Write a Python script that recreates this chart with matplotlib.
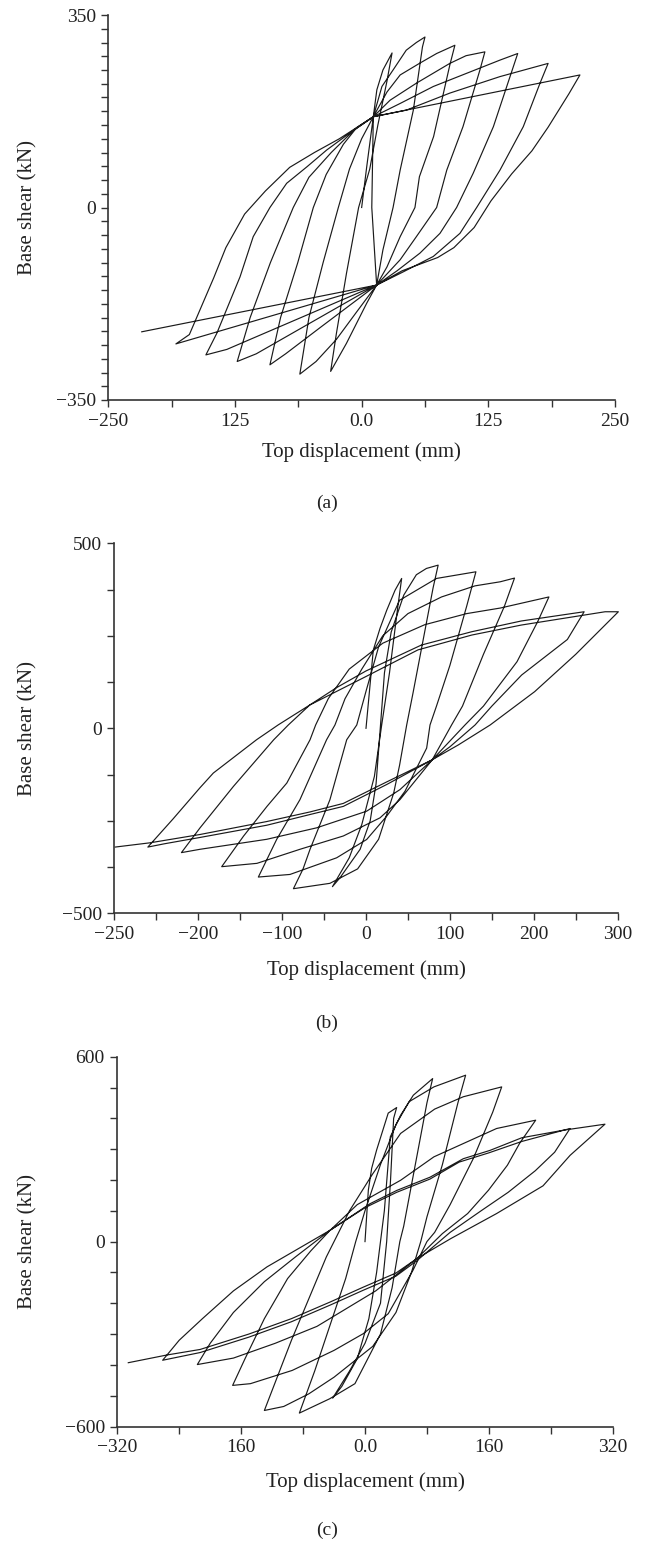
import numpy as np
import matplotlib
matplotlib.use("Agg")
import matplotlib.pyplot as plt
from matplotlib.ticker import MultipleLocator

plt.rcParams['font.family'] = ['Liberation Serif', 'DejaVu Serif']

# (a) hysteresis path: top displacement (mm), base shear (kN)
a_loop = [
    (0, 0), (5, 74), (11.5, 165), (15, 214), (21, 250), (30, 281),
    (25, 230), (16, 150), (8, 70), (-3, 0), (-15, -120), (-25, -230), (-30.6, -298),
    (-15, -247), (5, -174), (14.8, -141), (10, 0), (11.5, 165),
    (20, 220), (31, 250), (44, 286), (54, 300), (62.5, 310),
    (60, 292), (51, 177), (38, 68), (31, 0), (21, -77), (14.8, -141),
    (-5, -190), (-25, -240), (-45, -280), (-61, -303),
    (-52, -200), (-38, -100), (-23, 0), (-12, 70), (0, 125), (11.5, 165),
    (25, 210), (38, 241), (57, 262), (74, 280), (92, 295),
    (87, 259), (71, 129), (57, 56), (52.6, 0), (38, -53), (25, -108), (14.8, -141),
    (-40, -217), (-75, -266), (-90.5, -286),
    (-80, -200), (-63, -100), (-47.7, 0), (-35, 60), (-18, 115), (-5, 145), (11.5, 165),
    (28, 195), (54, 226), (87, 262), (103, 276), (121.6, 283),
    (116.7, 250), (100, 147), (84, 68), (74, 0), (54, -53), (38, -95), (14.8, -141),
    (-104, -266), (-122.8, -280),
    (-110, -200), (-90, -100), (-67.5, 0), (-52, 55), (-30, 100), (-8, 140), (11.5, 165),
    (37.8, 189), (70.7, 220), (103.6, 244), (136.5, 268), (154, 280),
    (146.4, 238), (130, 147), (110, 62), (93.7, 0), (77.3, -47), (57.5, -83), (35, -115), (14.8, -141),
    (-133, -258), (-153.7, -268),
    (-143, -229), (-120, -126), (-107, -53), (-90.5, 0), (-74, 44), (-54, 74), (-34.5, 104.5), (-8.3, 140), (11.5, 165),
    (44, 177), (87, 208), (136.5, 238), (184, 262),
    (176, 226), (159.5, 147), (136.5, 68), (113.5, 0), (97, -47), (70.7, -89), (40, -118), (14.8, -141),
    (-170, -241), (-183.3, -248),
    (-170, -231), (-146, -128), (-134, -73), (-115.5, -12), (-95, 30), (-71, 73), (-46.6, 100),
    (-22, 125), (11.5, 165),
    (215.4, 241),
    (204.6, 207), (184, 146), (168, 103), (148, 61), (127.6, 12), (111, -36.5), (91, -73),
    (75, -91), (40, -115), (14.8, -141),
    (-217, -226),
]

# (b)
b_loop = [
    (0, 0), (8.7, 211.6), (16.7, 270), (24.7, 319), (34.6, 373), (42.5, 405),
    (38, 330), (28, 150), (18.7, 9), (10, -130), (-5, -260), (-20, -350), (-40, -428),
    (-31, -404), (-7, -327), (5, -250), (12, -150), (17, 0), (22, 150), (30, 260), (45, 360), (60, 415), (72, 432), (86, 441),
    (80, 380), (56, 95), (48.5, 9), (40, -100), (33, -175), (15, -300), (-10, -380), (-43, -419), (-86.5, -433.5),
    (-75, -380), (-66.7, -327), (-43, -193), (-23, -31), (-11, 9), (0, 100), (15, 220), (40, 346), (84, 405), (131, 423),
    (120, 330), (100, 170), (84, 60), (76.3, 9), (72.3, -53.5), (46.5, -170), (24.6, -237.6), (0.8, -300.5),
    (-35, -350), (-90.6, -395), (-128.3, -402),
    (-106.4, -300), (-78.7, -192.7), (-47, -31), (-37, 9), (-25, 80), (-5, 160), (20, 250), (50, 310), (90, 355),
    (130, 385), (160, 396), (177, 406),
    (165, 330), (140, 200), (115, 60), (102, 9), (79, -85), (40.5, -192.7), (16.7, -242), (-27, -291), (-78.7, -327),
    (-130, -365), (-172, -374),
    (-146, -291.5), (-118, -211), (-94.4, -148), (-66.7, -31), (-60, 9), (-45, 80), (-20, 160), (20, 230), (70, 280),
    (120, 310), (160, 325), (218, 355),
    (205, 290), (180, 180), (140, 60), (118, 9), (79, -85), (40.5, -165.7), (0.8, -224), (-58.8, -269), (-118.3, -300),
    (-197.8, -327), (-220, -336),
    (-197.8, -269), (-158, -157), (-110, -31), (-92.6, 9), (-67, 63), (-35, 110), (0, 155), (66, 225), (126, 261),
    (185, 290), (260, 315),
    (240, 240), (185.5, 144), (150, 60), (130, 9), (100, -50), (79, -85), (24.6, -152), (-27, -211), (-66.7, -233),
    (-118.3, -262), (-197.8, -295), (-240, -312), (-260, -321),
    (-230, -245), (-198, -161), (-182, -121), (-130.5, -31), (-104.5, 9.4), (-67, 63), (0, 140), (62, 212), (126, 252),
    (185, 279), (285, 315), (300.8, 315),
    (250, 200), (201, 99), (148, 9), (110, -45), (79, -85), (24.6, -145), (-27, -203), (-66.7, -226), (-118.3, -252),
    (-197.8, -287), (-257.5, -309.5), (-299, -321),
]

# (c)
c_loop = [
    (0, 0), (4.3, 166.6), (8.6, 237.7), (15, 297), (25.8, 384), (30, 417), (40.9, 435),
    (37, 400), (33, 200), (28, 0), (20, -200), (0, -330), (-20, -420), (-41.8, -508),
    (-30, -470), (-10, -380), (5, -250), (15, -100), (20, 0), (25, 100), (32.7, 340), (46, 410), (62.4, 475), (87.4, 529),
    (80, 450), (65, 250), (50, 50), (45, 0), (35, -150), (20, -300), (-13, -461), (-45.6, -510), (-84.8, -556.5),
    (-65, -420), (-45, -270), (-25, -120), (-12, 0), (0, 100), (20, 250), (40, 380), (57, 454), (89, 502), (130, 540),
    (120, 450), (100, 250), (80, 80), (72, 0), (60, -100), (40, -230), (10, -340), (-13, -386), (-40, -440),
    (-72.6, -494), (-105, -535), (-130, -548),
    (-115, -450), (-95, -320), (-70, -170), (-50, -50), (-40, 0), (-20, 100), (10, 220), (46, 351), (90, 430),
    (127, 470), (176.6, 502),
    (165, 420), (140, 270), (110, 120), (90, 30), (80, 0), (62, -93), (30, -234), (-2.4, -299), (-40, -353),
    (-94, -418), (-148, -461), (-171, -466.6),
    (-155, -380), (-130, -250), (-100, -120), (-70, -30), (-45, 37), (-10, 120), (46, 199), (89, 275), (170, 367),
    (220.5, 394),
    (200, 320), (184, 248), (159.6, 167), (132.6, 91), (100, 26), (67, -55), (13.8, -160), (-62, -275), (-116, -330),
    (-170, -378), (-216.6, -399),
    (-200, -330), (-170, -230), (-130, -130), (-90, -50), (-45, 37), (0, 110), (41, 160), (84, 203), (121.7, 258),
    (160, 288), (202.6, 325), (264.9, 367),
    (245, 290), (220, 230), (185, 160), (150, 100), (110, 30), (67, -62), (40, -112), (-2.4, -158), (-45, -206),
    (-95, -260), (-150, -310), (-213, -360), (-261.4, -385),
    (-240, -320), (-210, -250), (-170, -160), (-126.6, -82), (-45, 37), (6.5, 123), (41, 166), (84, 209), (127, 269),
    (161.5, 296), (202.6, 337), (256.8, 361.7), (310, 381),
    (265, 280), (230, 181), (170, 91), (111, 10), (67, -55), (40, -102), (-2.4, -148), (-45, -196), (-95, -250),
    (-150, -300), (-213, -350), (-256, -368), (-305.8, -393),
]

# axis ticks as printed in the figure
a_xticks = [-250, -125, 0, 125, 250]
a_xlabels = ['\u2212250', '125', '0.0', '125', '250']
a_yticks = [-350, 0, 350]
a_ylabels = ['\u2212350', '0', '350']

b_xticks = [-300, -200, -100, 0, 100, 200, 300]
b_xlabels = ['\u2212250', '\u2212200', '\u2212100', '0', '100', '200', '300']
b_yticks = [-500, 0, 500]
b_ylabels = ['\u2212500', '0', '500']

c_xticks = [-320, -160, 0, 160, 320]
c_xlabels = ['\u2212320', '160', '0.0', '160', '320']
c_yticks = [-600, 0, 600]
c_ylabels = ['\u2212600', '0', '600']

W, H = 654, 1541
fig = plt.figure(figsize=(W / 100, H / 100), dpi=100)

panels = [
    # data, axes box in px (left, top, right, bottom), ticks, minor steps, tag, tag y, xlabel offset
    (a_loop, (108.3, 15, 615, 400), a_xticks, a_xlabels, 62.5, a_yticks, a_ylabels, 25, '(a)', 503, 52),
    (b_loop, (114.3, 543.3, 617.7, 913.3), b_xticks, b_xlabels, 50, b_yticks, b_ylabels, 125, '(b)', 1023, 57),
    (c_loop, (117.3, 1056.7, 612.7, 1426.5), c_xticks, c_xlabels, 80, c_yticks, c_ylabels, 100, '(c)', 1530, 56),
]

for loop, box, xt, xl, xm, yt, yl, ym, tag, tag_y, xlab_off in panels:
    l, t, r, b = box
    ax = fig.add_axes([l / W, 1 - b / H, (r - l) / W, (b - t) / H])
    xy = np.array(loop)
    ax.plot(xy[:, 0], xy[:, 1], color='#1a1a1a', lw=0.85, clip_on=False)
    ax.set_xlim(xt[0], xt[-1])
    ax.set_ylim(yt[0], yt[-1])
    ax.set_xticks(xt)
    ax.set_xticklabels(xl)
    ax.set_yticks(yt)
    ax.set_yticklabels(yl)
    ax.xaxis.set_minor_locator(MultipleLocator(xm))
    ax.yaxis.set_minor_locator(MultipleLocator(ym))
    ax.tick_params(which='both', direction='out', length=5, width=1, color='#333333',
                   labelsize=14, labelcolor='#222222', pad=4)
    for s in ['top', 'right']:
        ax.spines[s].set_visible(False)
    for s in ['left', 'bottom']:
        ax.spines[s].set_linewidth(1.2)
        ax.spines[s].set_color('#333333')
    ax.set_xlabel('Top displacement (mm)', fontsize=15, color='#222222')
    ax.set_ylabel('Base shear (kN)', fontsize=15, color='#222222')
    h = b - t
    w = r - l
    ax.xaxis.set_label_coords(0.5, -xlab_off / h)
    ax.xaxis.label.set_va('center')
    ax.yaxis.set_label_coords((28 - l) / w, 0.5)
    ax.yaxis.label.set_va('center')
    fig.text(0.5, 1 - tag_y / H, tag, ha='center', va='center', fontsize=14, color='#222222')

fig.savefig('out.png', dpi=100)
